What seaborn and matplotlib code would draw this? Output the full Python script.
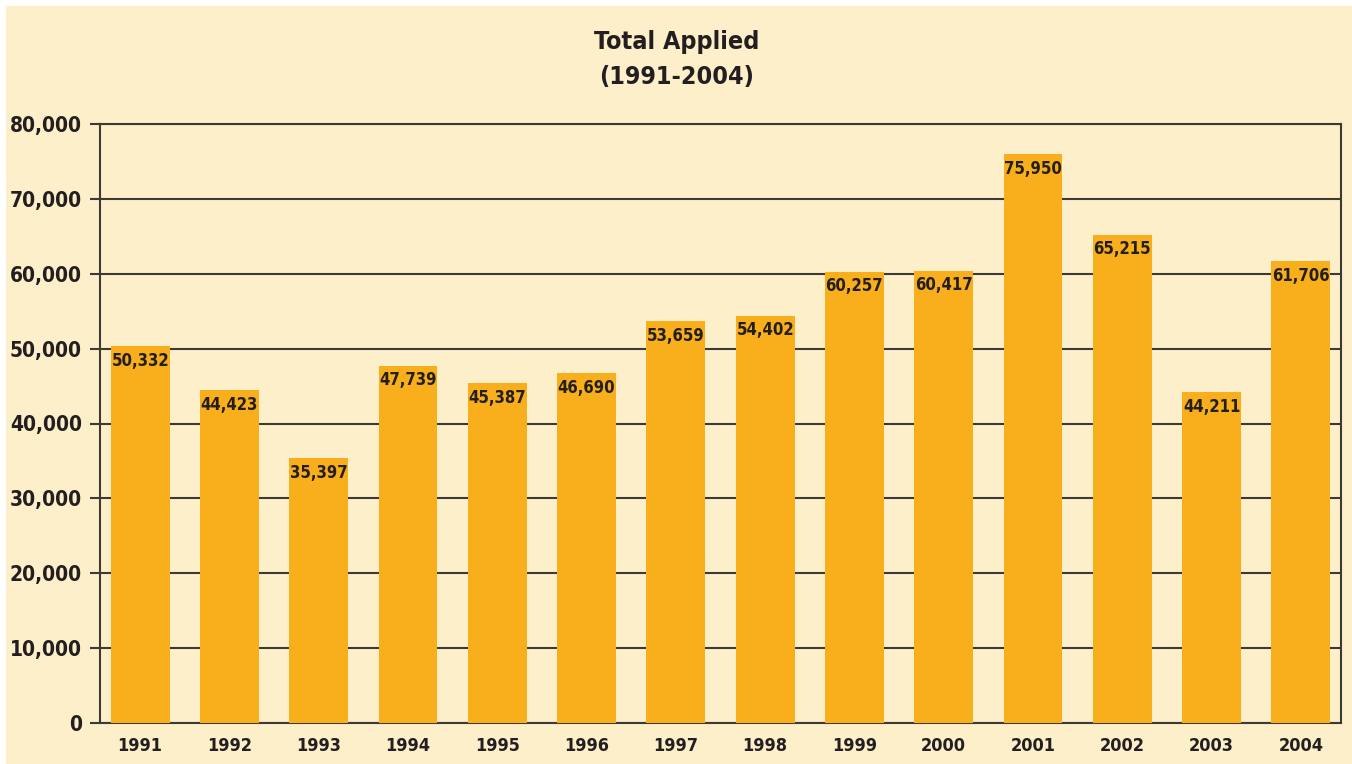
import matplotlib
matplotlib.use("Agg")
import matplotlib.pyplot as plt
import matplotlib.patches as mpatches
from matplotlib import font_manager
import seaborn as sns
import pandas as pd

years = ["1991", "1992", "1993", "1994", "1995", "1996", "1997",
         "1998", "1999", "2000", "2001", "2002", "2003", "2004"]
applied = [50332, 44423, 35397, 47739, 45387, 46690, 53659,
           54402, 60257, 60417, 75950, 65215, 44211, 61706]
y_ticks = [0, 10000, 20000, 30000, 40000, 50000, 60000, 70000, 80000]

BG = "#FDEFC9"
BAR = "#F9AF1B"
INK = "#231F20"
LINE = "#3D3A36"

sns.set_theme(style="white")
names = {f.name for f in font_manager.fontManager.ttflist}
if "Liberation Sans Narrow" in names:
    plt.rcParams["font.family"] = ["Liberation Sans Narrow", "DejaVu Sans"]
else:
    plt.rcParams["font.family"] = ["DejaVu Sans"]
    plt.rcParams["font.stretch"] = "condensed"
plt.rcParams["font.weight"] = "bold"

df = pd.DataFrame({"year": years, "applied": applied})

fig = plt.figure(figsize=(13.52, 7.64), dpi=100, facecolor="white")
# beige panel with the thin white strip on top and left
fig.patches.append(mpatches.Rectangle((6 / 1352, 0), 1, 1 - 6 / 764,
                                      transform=fig.transFigure,
                                      facecolor=BG, edgecolor="none", zorder=-5))

ax = fig.add_axes([100 / 1352, 41 / 764, 1241 / 1352, 599 / 764])
ax.set_facecolor(BG)

sns.barplot(data=df, x="year", y="applied", color=BAR, saturation=1,
            width=0.66, ax=ax, zorder=3, edgecolor="none", linewidth=0)

ax.set_xlim(-0.45, 13.45)
ax.set_ylim(0, 80000)
ax.set_yticks(y_ticks)
ax.set_yticklabels([f"{v:,}" for v in y_ticks], fontsize=15, color=INK,
                   fontweight="bold")
for lbl in ax.get_xticklabels():
    lbl.set_fontsize(13)
    lbl.set_fontweight("bold")
    lbl.set_color(INK)

ax.grid(axis="y", color=LINE, linewidth=1.5, zorder=0)
ax.set_axisbelow(True)
ax.tick_params(axis="y", which="major", length=7, width=1.5, color=LINE,
               direction="out", left=True, pad=6)
ax.tick_params(axis="x", length=0, pad=10)
for side in ["left", "right", "top", "bottom"]:
    ax.spines[side].set_visible(True)
    ax.spines[side].set_color(LINE)
    ax.spines[side].set_linewidth(1.5)
ax.set_xlabel("")
ax.set_ylabel("")

for container in ax.containers:
    ax.bar_label(container, labels=[f"{v:,}" for v in applied],
                 label_type="edge", padding=-17, fontsize=12,
                 fontweight="bold", color=INK)

fig.text(677 / 1352, 1 - 42 / 764, "Total Applied", ha="center", va="center",
         fontsize=18, fontweight="bold", color=INK)
fig.text(677 / 1352, 1 - 77 / 764, "(1991-2004)", ha="center", va="center",
         fontsize=18, fontweight="bold", color=INK)

fig.savefig("out.png", dpi=100, facecolor=fig.get_facecolor())
